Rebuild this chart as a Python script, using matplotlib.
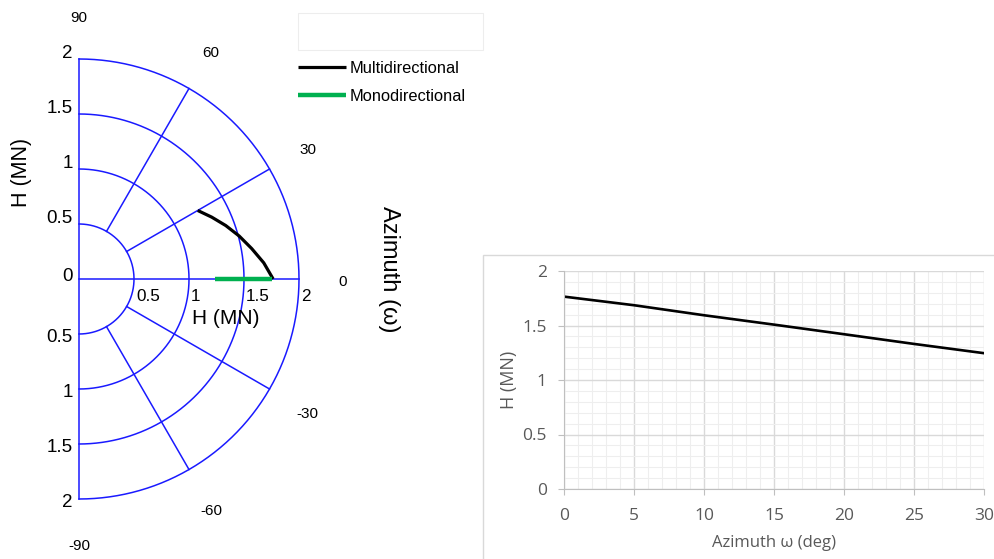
import numpy as np
import matplotlib.pyplot as plt
from matplotlib.patches import Rectangle
from matplotlib.ticker import MultipleLocator

# Horizontal force vs azimuth
azimuth_deg = [0, 5, 10, 15, 20, 25, 30]
h_multi = [1.765, 1.686, 1.594, 1.508, 1.42, 1.331, 1.246]

# Monodirectional: radial segment at azimuth 0
mono_az = [0, 0]
mono_h = [1.24, 1.755]

# Polar grid
ring_r = [0.5, 1.0, 1.5, 2.0]
spoke_deg = [-60, -30, 30, 60]
angle_labels = [90, 60, 30, 0, -30, -60, -90]
r_labels = ["0.5", "1", "1.5", "2"]
side_vals = [2, 1.5, 1, 0.5, 0, -0.5, -1, -1.5, -2]
side_labels = ["2", "1.5", "1", "0.5", "0", "0.5", "1", "1.5", "2"]

# Right chart ticks
x_ticks = [0, 5, 10, 15, 20, 25, 30]
y_ticks = [0, 0.5, 1, 1.5, 2]
y_tick_labels = ["0", "0.5", "1", "1.5", "2"]

W, H = 995, 559
fig = plt.figure(figsize=(W / 100, H / 100), dpi=100)
fig.patch.set_facecolor("white")

# ---- left: half polar drawn on a cartesian axes ----
cx, cy, scale = 79, 279, 110.0  # centre pixel, px per MN
axw = 490
ax_p = fig.add_axes([0, 0, axw / W, 1])
ax_p.set_xlim(-cx / scale, (axw - cx) / scale)
ax_p.set_ylim((cy - H) / scale, cy / scale)
ax_p.axis("off")

blue = "#1a1aff"
t = np.radians(np.linspace(-90, 90, 361))
for r in ring_r:
    ax_p.plot(r * np.cos(t), r * np.sin(t), color=blue, lw=1.1)
for a in spoke_deg:
    ar = np.radians(a)
    ax_p.plot([ring_r[0] * np.cos(ar), ring_r[-1] * np.cos(ar)],
              [ring_r[0] * np.sin(ar), ring_r[-1] * np.sin(ar)], color=blue, lw=1.1)
ax_p.plot([0, ring_r[-1]], [0, 0], color=blue, lw=1.1)
ax_p.plot([0, 0], [-ring_r[-1], ring_r[-1]], color=blue, lw=1.1)

w = np.radians(azimuth_deg)
hm = np.array(h_multi)
l_multi, = ax_p.plot(hm * np.cos(w), hm * np.sin(w), color="black", lw=2.3,
                     label="Multidirectional", solid_capstyle="butt")
wm = np.radians(mono_az)
hmo = np.array(mono_h)
l_mono, = ax_p.plot(hmo * np.cos(wm), hmo * np.sin(wm), color="#00b050", lw=3.2,
                    label="Monodirectional", solid_capstyle="butt")

font_l = "Liberation Sans"
for a in angle_labels:
    ar = np.radians(a)
    ax_p.text(2.4 * np.cos(ar), 2.4 * np.sin(ar) - 0.027, str(a), ha="center",
              va="center", fontsize=11, family=font_l)
for r, s in zip(ring_r, r_labels):
    ax_p.text(r + 0.02, -0.16, s, ha="left", va="center", fontsize=12.3, family=font_l)
for v, s in zip(side_vals, side_labels):
    dy = 0.05 if v > 0 else (0.02 if v == 0 else -0.03)
    ax_p.text(-0.055, v + dy, s, ha="right", va="center", fontsize=13.5, family=font_l)

ax_p.text(1.33, -0.36, "H (MN)", ha="center", va="center", fontsize=15, family=font_l)
ax_p.text(-0.52, 0.97, "H (MN)", ha="center", va="center", rotation=90,
          fontsize=15.5, family=font_l)
ax_p.text(2.82, 0.09, "Azimuth (ω)", ha="center", va="center", rotation=270,
          fontsize=17, family=[font_l, "DejaVu Sans"])

fig.legend(handles=[l_multi, l_mono], loc="upper left",
           bbox_to_anchor=(298 / W, 1 - 61 / H), frameon=False, borderpad=0,
           borderaxespad=0, handlelength=2.9, handletextpad=0.25, labelspacing=0.78,
           prop={"family": font_l, "size": 11.8})
fig.add_artist(Rectangle((298 / W, 1 - 50 / H), 185 / W, 37 / H, transform=fig.transFigure,
                         fill=False, edgecolor="#ededed", lw=0.8))

# ---- right: line chart ----
fig.add_artist(Rectangle((483 / W, -0.01), 0.6, (H - 255) / H + 0.01,
                         transform=fig.transFigure, fill=False,
                         edgecolor="#d9d9d9", lw=1.0))

font_r = ["Open Sans", "DejaVu Sans"]
ax = fig.add_axes([564 / W, 70 / H, 420 / W, 218 / H])
ax.plot(azimuth_deg, h_multi, color="black", lw=1.9)
ax.set_xlim(0, 30)
ax.set_ylim(0, 2)
ax.set_xticks(x_ticks)
ax.set_yticks(y_ticks)
ax.set_yticklabels(y_tick_labels)
ax.xaxis.set_minor_locator(MultipleLocator(1))
ax.yaxis.set_minor_locator(MultipleLocator(0.1))
ax.grid(which="major", color="#d9d9d9", lw=1.0)
ax.grid(which="minor", color="#eeeeee", lw=0.8)
ax.set_axisbelow(True)
for sp in ["top", "right"]:
    ax.spines[sp].set_visible(False)
for sp in ["left", "bottom"]:
    ax.spines[sp].set_color("#bfbfbf")
ax.tick_params(which="major", length=4.5, color="#bfbfbf", labelcolor="#595959",
               labelsize=12.5)
ax.tick_params(axis="x", pad=9)
ax.tick_params(axis="y", pad=8)
ax.tick_params(which="minor", length=0)
for lab in ax.get_xticklabels() + ax.get_yticklabels():
    lab.set_family(font_r)
ax.set_xlabel("Azimuth ω (deg)", fontsize=12, color="#595959", family=font_r, labelpad=8)
ax.set_ylabel("H (MN)", fontsize=13, color="#595959", family=font_r, labelpad=3)

fig.savefig("out.png", dpi=100)
